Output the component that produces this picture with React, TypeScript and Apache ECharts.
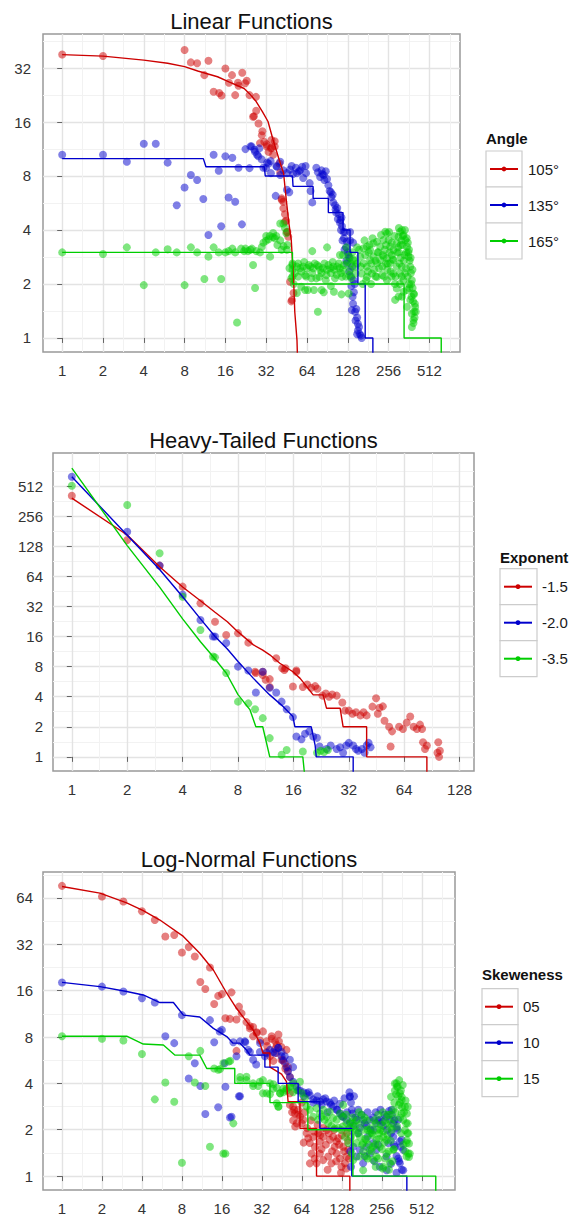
import { useEffect, useRef } from 'react';
import * as echarts from 'echarts';

type P = [number, number];

// ---------------- Panel 1: Linear Functions ----------------
const linTitle = 'Linear Functions';
const linLegendTitle = 'Angle';
const linNames = ['105°', '135°', '165°'];
const linXTicks = [1, 2, 4, 8, 16, 32, 64, 128, 256, 512];
const linYTicks = [1, 2, 4, 8, 16, 32];

const lin105Line: P[] = [[1, 38], [2, 37.3], [4, 35.4], [6, 34], [8, 32.6], [10, 30.8], [14, 28.6], [17, 26.8], [22, 24.6], [24, 23.1], [27, 20.8], [30, 18.3], [33, 16.1], [36, 12.7], [40, 9.8], [43, 8.3], [45, 5.9], [47, 4.4], [49, 3.5], [51, 2.1], [52, 1.4], [54, 0.97], [55, 0.6]];
const lin135Line: P[] = [[1, 10], [11, 10], [11.5, 9], [31, 9], [31.5, 8], [50, 8], [50.5, 7], [71, 7], [71, 6], [92, 6], [92, 5], [118, 5], [118, 4], [133, 4], [133, 3], [152, 3], [152, 2], [172, 2], [172, 1], [196, 1], [196, 0.6]];
const lin165Line: P[] = [[1, 3], [50, 3], [50, 2], [333, 2], [333, 1], [626, 1], [626, 0.6]];

const lin105Pts: P[] = [[1, 38.1], [2, 37.3], [8, 40.3], [8.9, 34.4], [9.9, 34], [11.2, 29.2], [12, 35.1], [13.1, 23.6], [14.4, 23.2], [15, 22.5], [16, 31.8], [17, 26.5], [17.9, 29.2], [18.9, 22.6], [19.8, 26.5], [20, 25.5], [21.3, 30.1], [22.4, 26.3], [23, 27.2], [24.1, 22.6], [25.6, 17.1], [26, 17.2], [26.9, 22.1], [27, 18.5], [28.1, 15.7], [28.8, 12.2], [29.7, 13.5], [30, 14.2], [31, 12.4], [32.3, 11.7], [32.3, 12], [33.3, 10.9], [34.7, 11.4], [35, 11.5], [36, 10.5], [37, 11.7], [37, 12.5], [35, 12.7], [40, 9.4], [40.6, 8.4], [41.6, 6], [41.6, 5.9], [42.8, 5.75], [42.8, 5.28], [44, 4.9], [44, 4.45], [44.9, 4.5], [45.4, 3.9], [45.9, 3.9], [46.6, 3.67], [48, 2.06], [49, 1.6], [49.6, 1.63], [50.9, 1.78]];
const lin135Pts: P[] = [[1, 10.5], [2, 10.5], [3, 9.6], [4, 12.1], [4.9, 12.1], [6, 9.5], [7, 5.5], [8, 6.9], [8.9, 8.1], [9.9, 7.6], [11, 5.95], [12, 3.75], [13.1, 10.5], [14.3, 8.55], [14.9, 4.2], [16, 10.3], [16.9, 6.07], [18, 10.1], [18.9, 5.75], [20, 8.9], [21.2, 4.3], [22.5, 11.3], [24.1, 8.85], [24.5, 11.7], [25, 11.7], [26.2, 11.2], [26.5, 10.9], [27.4, 10.5], [28.4, 11.4], [28, 10.3], [29.7, 9.9], [30.5, 8.9], [31.9, 8.85], [32.5, 9.5], [33.3, 9.4], [34.5, 9.7], [34.7, 8.3], [37.6, 6.2], [38, 9.1], [38.4, 9.0], [40.6, 9.6], [40.6, 8.1], [42.8, 8.6], [45.5, 8.3], [45.5, 6.7], [47.4, 6.5], [48, 8.7], [49.3, 9.1], [50.5, 8.2], [53, 8.9], [53.9, 8.3], [56, 8.5], [57, 8.6], [59, 9.0], [60, 7.8], [62.5, 9.1], [63, 8.3], [67, 7.3], [68, 6.6], [70, 5.7], [77, 8.4], [80, 7.9], [83, 8.2], [85, 8.1], [88, 8.5], [90, 7.7], [92, 7.1], [94, 6.6], [97, 6.1], [100, 5.7], [103, 5.5], [105, 5.0], [107, 5.3], [110, 4.9], [112, 4.4], [113, 4.55], [115, 4.7], [116, 4.2], [119, 3.9], [120, 3.6], [122, 3.9], [124, 3.2], [126, 3.45], [128, 3.0], [129, 2.9], [126, 2.6], [132, 2.8], [133, 3.5], [133, 3.9], [135, 2.2], [137, 1.43], [138, 2.5], [140, 3.4], [141, 2.1], [142, 1.8], [144, 2], [140, 1.55], [145, 1.4], [148, 1.45], [150, 1.3], [152, 1.2], [152, 1.1], [155, 1.15], [157, 1.05], [162, 1.0], [160, 1.03],
  [104, 5.2], [108, 4.6], [114, 4.0], [117, 3.5], [121, 3.1], [125, 2.7], [131, 2.35], [136, 1.95], [139, 1.7], [146, 1.25], [150, 1.05], [75, 8.9], [82, 8.6], [86, 7.6], [96, 6.5], [99, 6.3]];
const lin165Pts: P[] = [[1, 3], [2, 2.94], [3, 3.2], [4, 1.97], [4.9, 3.0], [6, 3.12], [7, 3.0], [8, 1.97], [8.9, 3.2], [9.9, 3.0], [11.2, 2.13], [12, 2.84], [13.1, 3.2], [14.3, 3.0], [14.9, 2.13], [16, 3.0], [16.9, 3.05], [18, 3.15], [18.9, 3.0], [19.5, 1.22], [20.9, 3.15], [22, 3.05], [22.5, 3.15], [23.5, 3.05], [24.5, 3.1], [25.1, 3.15], [25.6, 2.55], [26.5, 1.9], [27, 3.05], [28.8, 3.0], [29.7, 3.22], [30.5, 3.4], [31.9, 3.48], [32, 3.7], [33.3, 3.55], [34, 3.7], [34.2, 2.84], [35.9, 3.65], [36, 3.85], [37, 3.6], [38, 3.7], [38.7, 3.3], [40.6, 3.5], [40.6, 4.35], [41.6, 3.1], [42.8, 4.35], [43, 3.25], [44, 4.1], [45, 3.84], [45.5, 3.1], [45.9, 3.3], [47.5, 2.45], [49, 2.15], [50, 2.4], [50, 2.6], [50, 2.2], [51, 2.0], [53.9, 1.78],
  [54, 2.5], [57, 2.45], [60, 2.5], [64, 2.45], [68, 2.5], [71, 2.45], [76, 2.55], [80, 2.4], [84, 2.45], [90, 2.4], [95, 2.45], [100, 2.5], [107, 2.5], [112, 2.45], [118, 2.4],
  [55, 2.2], [62, 2.24], [69, 2.15], [79, 2.19], [89, 2.24], [103, 2.15], [116, 2.19], [131, 2.24], [146, 2.29],
  [58, 1.93], [65, 1.85], [72, 1.85], [82, 1.85], [101, 1.81], [130, 1.77],
  [77, 1.4], [90, 3.2], [118, 2.9], [130, 2.85], [138, 3.0], [135, 2.6], [145, 2.5], [142, 2.7],
  [50, 2.55], [52, 2.3], [55, 2.6], [58, 2.35], [61, 2.65], [63, 2.2], [66, 2.55], [70, 2.3], [73, 2.6], [75, 2.15], [78, 2.5], [82, 2.3], [86, 2.6], [88, 2.1], [92, 2.55], [96, 2.3], [99, 2.65], [102, 2.4], [106, 2.25], [110, 2.6], [114, 2.3], [120, 2.55], [124, 2.2], [127, 2.65], [133, 2.4], [136, 2.15], [140, 2.75], [70, 3.05], [112, 2.9], [125, 3.2], [62, 1.85], [96, 1.95], [115, 1.75], [85, 1.8],
  [167, 3.16], [177, 3.23], [187, 3.09], [198, 3.37], [210, 3.44], [222, 3.23], [235, 3.52], [242, 3.91], [249, 3.83], [256, 3.52], [263, 3.23], [278, 3.09], [294, 3.37], [303, 3.67], [311, 3.91], [321, 4.0], [330, 3.75], [340, 3.52], [350, 3.23], [359, 2.84], [370, 2.5], [380, 2.1], [391, 1.77], [402, 1.49], [391, 1.26], [380, 1.37], [370, 1.63], [350, 1.85], [330, 2.1], [311, 2.29], [294, 2.5], [278, 2.72], [263, 2.61], [249, 2.78], [235, 2.84], [222, 2.72], [210, 2.61], [198, 2.84], [187, 2.72], [177, 2.5], [167, 2.61], [158, 2.84], [162, 2.29], [177, 2.19], [193, 2.29], [210, 2.19], [229, 2.24], [249, 2.1], [278, 2.29], [294, 1.89], [286, 1.63], [303, 1.7], [321, 1.7], [330, 1.81], [350, 1.49], [380, 1.15], [391, 1.21],
  [300, 3.2], [305, 3.0], [315, 2.8], [318, 3.5], [325, 3.3], [335, 2.9], [345, 3.0], [355, 3.4], [362, 3.1], [366, 2.7], [374, 2.3], [376, 2.0], [385, 1.9], [388, 1.6], [395, 1.4], [398, 1.3], [260, 3.0], [270, 2.9], [240, 3.1], [215, 3.0], [205, 2.7], [185, 3.3], [172, 2.9], [155, 3.1], [150, 2.6], [165, 2.0], [190, 2.0], [250, 2.4], [270, 2.2], [285, 2.0], [310, 2.0], [320, 2.5], [340, 2.3], [362, 2.0], [230, 2.5], [245, 2.6], [200, 2.4], [180, 2.35],
  [150, 3.2], [160, 2.5], [170, 3.5], [175, 2.1], [183, 3.0], [190, 2.6], [195, 3.6], [205, 2.2], [212, 3.0], [218, 2.45], [225, 3.75], [232, 2.9], [238, 2.2], [245, 3.3], [252, 2.6], [258, 3.9], [265, 2.35], [270, 3.4], [275, 2.75], [282, 3.7], [288, 2.2], [296, 3.0], [305, 4.1], [308, 2.6], [314, 3.3], [320, 2.2], [326, 3.7], [332, 2.7], [338, 4.0], [344, 2.45], [348, 3.6], [354, 2.2], [358, 3.0], [365, 1.9], [372, 2.8], [378, 1.7], [384, 2.4], [395, 1.75], [400, 1.55], [406, 1.4]];

// ---------------- Panel 2: Heavy-Tailed Functions ----------------
const htTitle = 'Heavy-Tailed Functions';
const htLegendTitle = 'Exponent';
const htNames = ['-1.5', '-2.0', '-3.5'];
const htXTicks = [1, 2, 4, 8, 16, 32, 64, 128];
const htYTicks = [1, 2, 4, 8, 16, 32, 64, 128, 256, 512];

const ht15Line: P[] = [[1, 388], [2, 166], [3, 80], [4, 50], [5, 36.5], [6, 28], [7, 22.5], [8, 17.8], [9, 14.8], [9.7, 13.2], [10.9, 11.7], [11.9, 10.5], [13.5, 8.65], [15.9, 7.1], [17.4, 6.1], [18.9, 5.05], [20.5, 4.17], [23.2, 4.17], [24.2, 3.07], [28.7, 3.07], [29.8, 2], [40, 2], [40, 1], [85, 1], [85, 0.6]];
const ht20Line: P[] = [[1, 636], [2, 165], [3, 75], [4, 40], [5, 24], [6, 16], [7, 12], [8, 9], [9.7, 6.1], [11.9, 4.17], [14.1, 3.18], [15.9, 2.53], [16.3, 2], [20, 2], [21, 1.3], [21.3, 1], [33.8, 1], [33.8, 0.6]];
const ht35Line: P[] = [[1, 776], [2, 130], [3, 50], [4, 24], [5, 14.2], [5.85, 10.1], [6.9, 6.9], [8, 4.2], [9.3, 2.95], [10, 2], [10.9, 2], [11.9, 1], [18, 1], [18.5, 0.6]];

const ht15Pts: P[] = [[1, 410], [2, 148], [3, 82], [4, 50.5], [5, 34.4], [6, 22.5], [6.9, 16.6], [8, 17.3], [9.1, 13.9], [9.9, 7.1], [10, 6.9], [10.9, 6.6], [10.9, 7.1], [11.3, 5.9], [11.9, 5.0], [11.9, 6], [12.9, 9.7], [13.9, 7.7], [14.3, 7.4], [14.5, 7.7], [15.9, 5.05], [16.6, 7.3], [16.6, 7.1], [18, 5.0], [19, 5.3], [20, 4.9], [21, 5.1], [21.6, 4.8], [23, 4.1], [24, 4.3], [25, 4.0], [26, 4.2], [27.5, 4.1], [29.5, 3.5], [30.5, 2.9], [32, 2.9], [33.5, 2.7], [35, 2.8], [37, 2.6], [38.5, 2.8], [40, 2.6], [43, 3.18], [45, 3.86], [47, 3.1], [49, 3.2], [46, 2.7], [50, 2.3], [53, 2.0], [55, 1.8], [54, 1.27], [60, 2.0], [63, 1.9], [66, 2.2], [69, 2.53], [72, 2.0], [75, 1.9], [78, 2.1], [80, 1.9], [81, 1.4], [83, 1.2], [85, 1.3], [98, 1.4], [99, 1.0], [100, 1.15], [97, 1.1]];
const ht20Pts: P[] = [[1, 636], [2, 179], [3, 82], [4, 42], [5, 23.4], [5.85, 16], [6, 16], [6.9, 13.8], [8, 8], [9.1, 7.3], [10.9, 7.1], [10, 4.4], [11.9, 4.9], [12.9, 4.4], [13.8, 3.57], [14.7, 3.0], [15.9, 2.5], [16.6, 1.6], [17.7, 1.5], [18.5, 1.7], [19.5, 1.8], [20.5, 1.6], [21.5, 1.55], [22.2, 1.27], [24.2, 1.2], [25.5, 1.3], [27.5, 1.2], [28.7, 1.25], [29.8, 1.1], [31, 1.3], [32, 1.38], [33.8, 1.3], [35, 1.2], [36, 1.15], [37.7, 1.2], [40, 1.3], [42, 1.25], [39, 1.1], [41, 1.38]];
const ht35Pts: P[] = [[1, 517], [2, 331], [3, 109], [4, 40], [5, 18.6], [5.85, 10.1], [6, 9.9], [6.9, 6.9], [8, 3.57], [9.1, 3.43], [9.9, 3.0], [10.9, 2.44], [11.9, 1.54], [13.8, 1.05], [14.7, 1.17], [18, 1.13], [21.5, 1.1], [22.5, 1.15], [23.5, 1.12], [24.6, 1.17]];

// ---------------- Panel 3: Log-Normal Functions ----------------
const lnTitle = 'Log-Normal Functions';
const lnLegendTitle = 'Skeweness';
const lnNames = ['05', '10', '15'];
const lnXTicks = [1, 2, 4, 8, 16, 32, 64, 128, 256, 512];
const lnYTicks = [1, 2, 4, 8, 16, 32, 64];

const ln05Line: P[] = [[1, 76], [1.93, 68.8], [3.07, 59.4], [4.09, 53], [5.46, 46], [8.2, 36], [10.9, 28], [13.8, 21.8], [17.4, 15.4], [20.6, 12.3], [24.5, 10.1], [27.5, 8.9], [30.9, 7.3], [32.6, 6.3], [36.8, 6.3], [36.8, 5.1], [45, 4.6], [49, 4.1], [50.4, 3.04], [61.9, 3.04], [61.9, 2.04], [82.5, 2.04], [82.5, 1], [147, 1], [147, 0.6]];
const ln10Line: P[] = [[1, 18.1], [1.93, 17], [3.07, 15.8], [4.09, 15], [5.46, 13.4], [6.9, 13.4], [8.2, 11.1], [10.9, 10.8], [13.8, 9.1], [17.4, 8.05], [19.4, 7.3], [21.9, 7.3], [24.5, 6.6], [26, 6.1], [33.7, 6.1], [33.7, 5.1], [42.4, 5.1], [42.4, 4], [60, 4], [60, 3.04], [87.4, 3.04], [87.4, 2.04], [152, 2.04], [152, 1], [395, 1], [395, 0.6]];
const ln15Line: P[] = [[1, 8.1], [3.07, 8.1], [4.09, 7.2], [5.8, 7.1], [7.1, 6.1], [10.9, 6.1], [12.3, 5], [20, 5], [20, 4], [36.8, 4], [36.8, 3], [71, 3], [71, 2], [155, 2], [155, 1], [652, 1], [652, 0.6]];

const ln05Pts: P[] = [[1, 76.7], [2, 65.4], [2.9, 60.7], [4, 52.4], [5, 46], [6, 36], [7, 36.8], [8, 28.3], [9, 30.7], [10, 26.7], [11, 18.2], [12, 16.4], [13, 22.6], [14, 13.1], [15, 14.8], [16, 15.2], [17, 10.6], [18.4, 10.5], [18.9, 15.6], [20.6, 10.4], [20.6, 6.5], [21.5, 12.6], [22.5, 11.4], [24.5, 10], [26, 9.4], [27.5, 9.3], [27.5, 8.1], [29.2, 8.6], [31, 7.6],
  [26, 9.1], [29.2, 8.5], [32.6, 8.7], [34.7, 7.5], [37.9, 8.1], [40.2, 7.5], [42.6, 8.3], [41.4, 7.1], [44.9, 6.9], [49, 6.6], [34.7, 6.4], [36.8, 6.0], [39, 5.6], [41.4, 6.3], [44.9, 5.7], [47.6, 5.4], [50.4, 5.1],
  [35, 7.0], [38, 7.8], [40, 6.7], [43, 7.5], [46, 5.7], [48, 5.0], [50, 4.8], [52, 4.4], [54, 2.6], [55, 2.3], [57, 2.1],
  [52, 3.45], [55, 2.83], [56.8, 2.55], [60.1, 2.7], [61.9, 2.43], [65.6, 2.32], [58.5, 2.2], [63.8, 3.0], [69.5, 1.9], [71.5, 1.76], [73.5, 1.64], [77.9, 1.8], [75.7, 1.4], [80.2, 1.55], [85, 1.9], [87.4, 1.68], [92.6, 1.8], [98.3, 1.99], [104, 1.72], [110, 1.8], [113, 1.55], [101, 1.34], [92.6, 1.27], [107, 1.21], [117, 1.4], [124, 1.3], [131, 1.55], [135, 1.21], [143, 1.48], [139, 1.34], [117, 1.68], [82.6, 1.21], [73.5, 1.21], [87.4, 1.4], [120, 1.76], [127, 1.15],
  [52, 2.9], [56, 2.7], [60, 2.5], [64, 2.2], [67, 2.6], [70, 2.05], [75, 2.3], [79, 1.95], [84, 2.15], [88, 1.85], [93, 2.05], [97, 1.6], [102, 1.9], [108, 1.45], [112, 2.0], [116, 1.25], [122, 1.6], [128, 1.85], [133, 1.45], [138, 1.12], [142, 1.7], [145, 1.3], [140, 1.9], [126, 1.05], [100, 1.1], [90, 1.5], [80, 1.3], [66, 1.65]];
const ln10Pts: P[] = [[1, 18.1], [2, 17], [2.9, 15.8], [4, 14.3], [5, 13.4], [6, 8.1], [7, 7.3], [8, 11.1], [9, 4.3], [10, 5.4], [11, 3.85], [12, 2.53], [13, 10.3], [14, 7.4], [15, 2.8], [16, 8.9], [17, 3.8], [18.4, 2.4], [19.5, 7.4], [20.6, 6.0], [21.5, 3.3], [24, 7.4], [26, 6.4], [29, 5.3], [31, 7.3], [33.7, 6.0], [36.8, 6.6], [40.2, 6.3], [42.4, 6.8], [45, 6.4], [47.6, 6.0], [52, 5.7], [55, 5.1],
  [15.4, 8.7], [16.8, 5.4], [18.9, 2.43], [21.9, 3.3], [21.9, 7.5], [23.8, 7.5], [25.2, 6.6], [27.5, 5.7], [30.9, 6.4], [34.7, 6.3], [39, 6.4], [42.6, 6.8], [45, 6.0], [46.3, 5.6], [49, 5.1], [50.4, 4.8], [52, 4.4], [55, 4.1], [58.5, 3.8], [61.9, 3.6], [65.6, 3.5], [69.5, 3.45], [73.5, 3.35], [77.9, 3.15], [82.6, 3.1], [87.4, 3.05], [92.6, 3.15], [98.3, 3.05], [104, 3.0], [110, 2.83], [117, 2.7], [124, 2.55], [131, 2.43], [139, 2.32], [147, 2.2], [156, 2.12], [147, 3.3], [152, 2.7], [165, 2.32], [175, 2.06], [185, 2.32], [196, 2.12], [208, 2.32], [220, 1.99], [233, 2.2], [247, 2.32], [262, 2.12], [278, 2.43], [294, 2.32], [312, 2.2], [330, 2.06], [350, 1.68], [371, 1.48], [371, 1.09], [350, 1.21], [278, 1.34], [247, 1.15], [233, 1.48], [220, 1.64], [208, 1.4], [196, 1.55], [185, 1.21], [175, 1.48], [165, 1.34], [156, 1.55], [278, 1.09], [312, 1.8], [303, 2.7], [286, 1.64], [321, 1.55], [361, 1.72], [340, 2.32], [147, 3.27], [330, 1.05], [340, 1.3], [300, 1.2],
  [60, 3.6], [66, 3.3], [72, 3.5], [78, 3.0], [84, 3.3], [90, 2.9], [96, 3.2], [100, 2.6], [106, 2.9], [112, 3.1], [118, 2.7], [124, 2.95], [128, 2.45], [134, 3.2], [140, 2.6], [146, 3.5], [150, 3.0], [154, 2.55], [158, 3.3], [162, 2.4], [170, 2.7], [180, 2.5], [190, 2.2], [200, 2.6], [210, 2.0], [220, 2.4], [230, 2.6], [240, 2.3], [250, 2.7], [260, 2.25], [268, 2.5], [280, 2.0], [290, 2.65], [300, 1.9], [305, 2.5], [315, 1.6], [320, 2.3], [330, 1.35], [335, 2.0], [345, 1.25], [355, 1.55], [362, 1.1], [240, 1.6], [200, 1.8], [170, 1.9], [190, 1.35], [225, 1.25], [150, 1.15], [148, 1.45]];
const ln15Pts: P[] = [[1, 8.1], [2, 7.8], [2.9, 7.6], [4, 6.2], [5, 3.15], [6, 4.05], [7, 3.04], [8, 1.22], [9, 6.0], [10, 4.05], [11, 6.5], [12, 3.85], [13, 1.55], [14, 5.0], [15, 4.9], [15.5, 4.95], [16.4, 1.4], [17, 1.4], [18, 5.55], [19.5, 2.2], [21.9, 4.2], [24.5, 4.42], [27.5, 3.85], [30, 3.85], [32.6, 4.2], [34.7, 3.45], [36.8, 4.0], [39, 3.7], [41.4, 2.97], [42.6, 2.82], [43.9, 3.45], [46.3, 3.7], [49, 3.7], [52, 3.85], [55, 4.0], [58.4, 3.63],
  [16.4, 5.4], [18.5, 5.6], [21.9, 4.4], [24.5, 4.2], [27.5, 4.0], [30.9, 4.1], [32.6, 3.45], [36.8, 3.4], [39, 3.95], [41.4, 3.75], [42.6, 2.83], [43.8, 3.45], [46.3, 3.5], [49, 3.6], [52, 3.8], [55, 3.5], [61.9, 4.1], [63.8, 3.45], [67.5, 3.2], [69.5, 2.83], [73.5, 2.7], [77.9, 2.43], [82.6, 2.76], [87.4, 2.55], [92.6, 2.7], [98.3, 2.43], [104, 2.62], [110, 2.38], [117, 2.32], [124, 2.55], [131, 2.43], [139, 2.2], [147, 2.06], [156, 2.2], [165, 1.99], [175, 1.8], [185, 1.64], [196, 1.72], [208, 1.48], [220, 1.27], [233, 1.34], [247, 1.55], [262, 1.8], [278, 1.72], [294, 2.06], [312, 2.7], [321, 3.6], [330, 4.0], [340, 3.3], [350, 3.0], [361, 2.55], [371, 2.32], [382, 1.99], [394, 1.64], [405, 1.4], [394, 1.34], [312, 1.48], [294, 1.21], [278, 1.4], [262, 1.15], [233, 1.72], [220, 1.55], [208, 1.9], [196, 1.34], [185, 1.09], [175, 1.34], [165, 1.64], [156, 1.27], [152, 1.4], [143, 1.64], [135, 1.8], [127, 1.99], [120, 2.06], [113, 2.04], [107, 2.12], [101, 2.2], [95, 2.32], [90, 2.43], [85, 2.32],
  [321, 4.0], [333, 3.81], [350, 3.45], [361, 3.12], [382, 2.82], [395, 2.55], [401, 2.2], [405, 1.9], [410, 1.63], [416, 1.4], [410, 1.33], [395, 1.71], [401, 2.82], [361, 3.27], [300, 3.27],
  [250, 2.0], [230, 2.2], [270, 2.3], [200, 2.0], [190, 2.4], [215, 1.9], [245, 1.9], [285, 2.5], [300, 2.2], [260, 2.6], [240, 2.5], [180, 2.5],
  [131, 2.9], [138, 2.5], [142, 2.0], [150, 1.8], [155, 2.4], [160, 2.1], [168, 1.9], [172, 2.6], [178, 2.2], [182, 1.6], [188, 2.0], [192, 1.75], [198, 2.3], [204, 1.6], [210, 2.05], [214, 1.45], [218, 1.85], [224, 2.3], [228, 1.6], [236, 2.0], [240, 1.3], [244, 1.75], [252, 2.15], [256, 1.5], [262, 1.95], [268, 1.65], [272, 1.3], [276, 2.2], [282, 1.85], [288, 1.45], [292, 2.5], [298, 1.7], [304, 2.0], [308, 1.25], [314, 2.35], [318, 3.0], [324, 2.6], [328, 3.4], [334, 2.1], [338, 3.8], [344, 2.9], [346, 4.2], [352, 2.4], [356, 3.6], [358, 1.9], [364, 2.8], [368, 3.9], [372, 1.6], [376, 2.6], [386, 3.1], [390, 2.2], [384, 1.45], [398, 1.9], [230, 1.15], [260, 1.12], [200, 1.3], [185, 1.45], [290, 1.1], [315, 1.5], [165, 2.3], [148, 2.25], [130, 2.1]];

// ---------------- styling / layout ----------------
const COLORS = ['#CD0000', '#0000CD', '#00CD00'];
const FONT = '"Liberation Sans", Arial, Helvetica, sans-serif';

const panels = [
  { title: linTitle, legendTitle: linLegendTitle, names: linNames, lines: [lin105Line, lin135Line, lin165Line], pts: [lin105Pts, lin135Pts, lin165Pts], xTicks: linXTicks, yTicks: linYTicks },
  { title: htTitle, legendTitle: htLegendTitle, names: htNames, lines: [ht15Line, ht20Line, ht35Line], pts: [ht15Pts, ht20Pts, ht35Pts], xTicks: htXTicks, yTicks: htYTicks },
  { title: lnTitle, legendTitle: lnLegendTitle, names: lnNames, lines: [ln05Line, ln10Line, ln15Line], pts: [ln05Pts, ln10Pts, ln15Pts], xTicks: lnXTicks, yTicks: lnYTicks },
];

// layout of each panel (pixels / log2 extents)
const layouts = [
  { grid: { left: 43, top: 34, width: 417, height: 318 }, xr: [-0.47, 9.75], yr: [-0.26, 5.63], titleX: 251.5, titleY: 21, ylm: 12,
    legLeft: 489, legTop: 161, boxX: 486, boxY: 151, boxW: 36, ltX: 486, ltY: 138 },
  { grid: { left: 53, top: 453, width: 421, height: 318 }, xr: [-0.34, 7.26], yr: [-0.47, 10.1], titleX: 263.5, titleY: 440, ylm: 10,
    legLeft: 503, legTop: 578.7, boxX: 500, boxY: 568.7, boxW: 37, ltX: 500, ltY: 557.5 },
  { grid: { left: 43, top: 872, width: 412, height: 318 }, xr: [-0.475, 9.83], yr: [-0.30, 6.56], titleX: 249, titleY: 859, ylm: 10,
    legLeft: 484, legTop: 998.7, boxX: 482, boxY: 988.7, boxW: 36, ltX: 482, ltY: 974 },
];

const lg = (pts: P[]) => pts.map(([x, y]) => [Math.log2(x), Math.log2(y)]);
const fmt = (v: number) => (Math.abs(v - Math.round(v)) < 1e-6 ? String(Math.round(Math.pow(2, v))) : '');

function axisCfg(gridIndex: number, range: number[], ticks: number[], margin: number) {
  const vals = ticks.map((t) => Math.log2(t));
  return {
    type: 'value',
    gridIndex,
    min: range[0],
    max: range[1],
    splitNumber: Math.round(range[1] - range[0]),
    axisLine: { show: false },
    axisTick: { show: true, length: 5, lineStyle: { color: '#666666', width: 1 }, customValues: vals },
    axisLabel: { customValues: vals, formatter: fmt, color: '#333333', fontSize: 15, fontFamily: FONT, margin, showMinLabel: true, showMaxLabel: true },
    splitLine: { show: true, lineStyle: { color: '#E3E3E3', width: 1.4 } },
    minorTick: { show: false, splitNumber: 2 },
    minorSplitLine: { show: true, lineStyle: { color: '#F2F2F2', width: 1 } },
  };
}

export default function App() {
  const ref = useRef<HTMLDivElement>(null);
  useEffect(() => {
    if (!ref.current) return;
    const chart = echarts.init(ref.current, undefined, { renderer: 'svg' });

    const grid: any[] = [];
    const xAxis: any[] = [];
    const yAxis: any[] = [];
    const legend: any[] = [];
    const series: any[] = [];
    const graphic: any[] = [];

    panels.forEach((p, pi) => {
      const L = layouts[pi];
      grid.push({ ...L.grid, show: true, borderColor: '#999999', borderWidth: 1.5, backgroundColor: '#ffffff', containLabel: false, outerBoundsMode: 'none' });
      xAxis.push(axisCfg(pi, L.xr, p.xTicks, 11));
      yAxis.push(axisCfg(pi, L.yr, p.yTicks, L.ylm));

      p.names.forEach((name, i) => {
        series.push({
          type: 'line', name, xAxisIndex: pi, yAxisIndex: pi, data: lg(p.lines[i]),
          showSymbol: false, symbol: 'circle', clip: true, silent: true, z: 3,
          lineStyle: { color: COLORS[i], width: 1.4 }, itemStyle: { color: COLORS[i] },
        });
      });
      p.names.forEach((name, i) => {
        series.push({
          type: 'scatter', name, xAxisIndex: pi, yAxisIndex: pi, data: lg(p.pts[i]),
          symbol: 'circle', symbolSize: 8, clip: true, silent: true, z: 2,
          itemStyle: { color: COLORS[i], opacity: 0.5 },
        });
      });

      legend.push({
        orient: 'vertical', left: L.legLeft, top: L.legTop, padding: 0,
        itemWidth: 28, itemHeight: 6, itemGap: 20, selectedMode: false,
        data: p.names,
        textStyle: { fontSize: 15, fontFamily: FONT, color: '#1a1a1a', lineHeight: 16, padding: [0, 0, 0, 5] },
      });

      graphic.push({
        type: 'text', x: L.titleX, y: L.titleY, z: 10,
        style: { text: p.title, fontSize: 22, fontFamily: FONT, fill: '#111111', align: 'center', verticalAlign: 'middle', textAlign: 'center', textVerticalAlign: 'middle' },
      });
      graphic.push({
        type: 'text', x: L.ltX, y: L.ltY, z: 10,
        style: { text: p.legendTitle, fontSize: 15, fontWeight: 'bold', fontFamily: FONT, fill: '#111111', align: 'left', verticalAlign: 'middle', textAlign: 'left', textVerticalAlign: 'middle' },
      });
      [0, 1, 2].forEach((k) => {
        graphic.push({
          type: 'rect', z: 1,
          shape: { x: L.boxX, y: L.boxY + k * 36, width: L.boxW, height: 36 },
          style: { fill: '#ffffff', stroke: '#CCCCCC', lineWidth: 1.2 },
        });
      });
    });

    chart.setOption({
      animation: false,
      backgroundColor: '#ffffff',
      grid, xAxis, yAxis, legend, series, graphic,
    });
    return () => chart.dispose();
  }, []);

  return <div ref={ref} style={{ position: 'absolute', left: 0, top: 0, width: 573, height: 1216 }} />;
}
